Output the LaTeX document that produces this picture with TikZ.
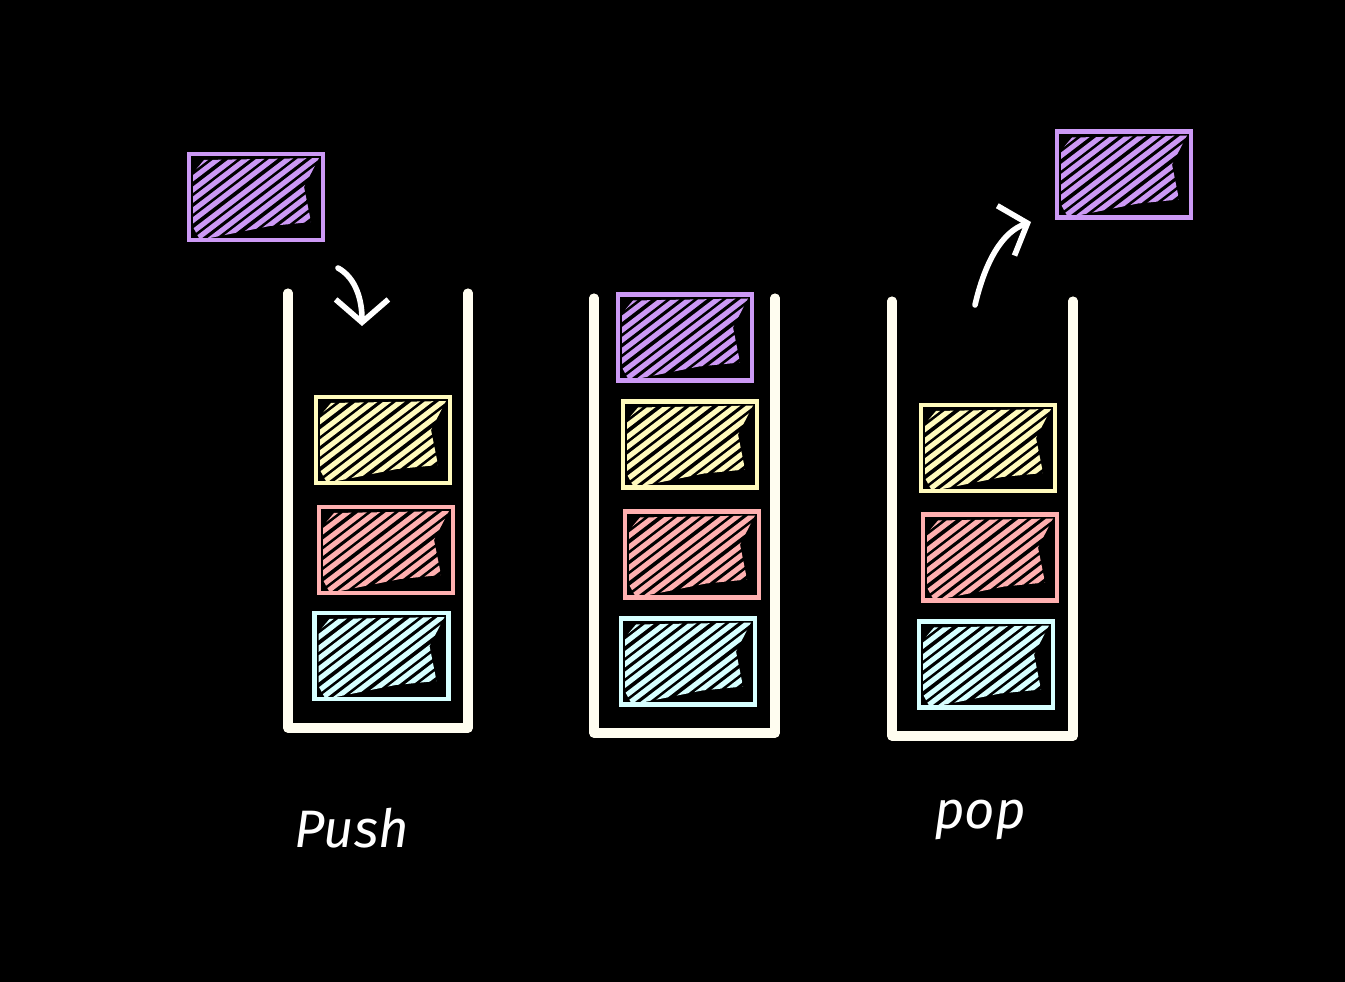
\documentclass[tikz,border=0pt]{standalone}
\usepackage{fontspec}
\setsansfont{Fira Sans}
\usetikzlibrary{arrows.meta}
\definecolor{lilac}{RGB}{204,153,245}
\definecolor{lemon}{RGB}{255,250,188}
\definecolor{salmon}{RGB}{255,176,176}
\definecolor{ice}{RGB}{214,255,255}
\definecolor{chalk}{RGB}{255,253,240}
\tikzset{
  itembox/.style={draw, line width=2.3pt, minimum width=2.68cm, minimum height=1.72cm, inner sep=0pt},
  stackline/.style={chalk, line width=5.2pt, line cap=round, line join=round},
  chalkarrow/.style={white, line width=3.2pt, line cap=round, -{Straight Barb[length=13pt, width=30pt, line width=3.2pt]}},
  chalktext/.style={white, font=\sffamily\itshape\fontsize{30}{32}\selectfont}
}
% one hatched box: name, colour, centre x, centre y
\newcommand\hatchbox[4]{%
  \node[itembox, draw=#2] (#1) at (#3,#4) {};
  \begin{scope}
    \clip (#3-63,#4-24) -- (#3-52,#4-37) -- (#3+63,#4-39) -- (#3+48,#4-10)
      -- (#3+55,#4+25) -- (#3+14,#4+29) -- (#3-56,#4+43) -- (#3-63,#4+30) -- cycle;
    \foreach \d in {-172,-158,-145,-130,-117,-103,-90,-75,-62,-48,-35,-20,-7,7,20,34,47,61,74,88,101,115}
      \draw[#2, line width=2.9pt, line cap=round] (#3+\d,#4+44) -- (#3+\d+115,#4-44);
  \end{scope}
}
\begin{document}
\begin{tikzpicture}[x=0.02cm, y=-0.02cm]
    \useasboundingbox (0,0) rectangle (1345,982);
    \fill[black] (0,0) rectangle (1345,982);

    % the three stacks
    \foreach \l/\r/\t/\b in {288/468/293/728, 594/775/298/733, 892/1073/301/736}
    \draw[stackline] (\l,\t) -- (\l,\b) -- (\r,\b) -- (\r,\t);

    % push
    \hatchbox{pushin}{lilac}{256}{197}
    \hatchbox{ayel}{lemon}{383}{440}
    \hatchbox{ared}{salmon}{386}{550}
    \hatchbox{acyan}{ice}{381.5}{656}

    % full stack
    \hatchbox{btop}{lilac}{685}{337.5}
    \hatchbox{byel}{lemon}{690}{444.5}
    \hatchbox{bred}{salmon}{692}{554.5}
    \hatchbox{bcyan}{ice}{688}{661.5}

    % pop
    \hatchbox{cyel}{lemon}{988}{448}
    \hatchbox{cred}{salmon}{990}{557.5}
    \hatchbox{ccyan}{ice}{986}{664.5}
    \hatchbox{popout}{lilac}{1124}{174.5}

    \coordinate (pushfrom) at (338,268);
    \coordinate (pushto) at (362,326);
    \draw[chalkarrow] (pushfrom) .. controls (356,278) and (362,300) .. (pushto);

    \coordinate (popfrom) at (975,305);
    \coordinate (popto) at (1031,222);
    \draw[chalkarrow] (popfrom) .. controls (985,262) and (1002,232) .. (popto);

    \node[chalktext] (pushlabel) at (352,828) {Push};
    \node[chalktext] (poplabel) at (980,820) {pop};
\end{tikzpicture}
\end{document}
